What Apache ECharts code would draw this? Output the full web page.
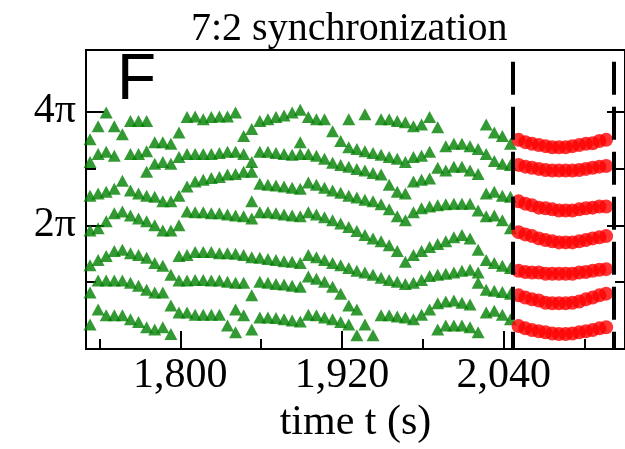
<!DOCTYPE html>
<html><head><meta charset="utf-8">
<script src="https://cdn.jsdelivr.net/npm/echarts@6/dist/echarts.min.js"></script>
<style>html,body{margin:0;padding:0;background:#fff}#c{width:625px;height:449px}</style>
</head><body><div id="c"></div>
<script>
// beat windows (time, s)
const beatTimes = [1733,1739,1745,1751,1757,1763,1769,1775,1781,1787,1793,1799,1805,1811,1817,1823,1829,1835,1841,1847,1853,1859,1865,1871,1877,1883,1889,1895,1901,1907,1913,1919,1925,1931,1937,1943,1949,1955,1961,1967,1973,1979,1985,1991,1997,2003,2009,2015,2021,2027,2033,2039,2045];
// green phases (units of pi), ordered lowest -> highest per beat window
const lane1 = [0.26,0.52,0.42,0.42,0.42,0.35,0.30,0.21,0.17,0.21, 0.09,0.47,0.47,0.43,0.43,0.43,0.43,0.24,0.12,0.42, 0.17,0.38,0.38,0.37,0.35,0.33,0.31,0.43,0.42,0.38, 0.35,0.30,0.26,0.07,0.26,0.07,0.42,0.42,0.40,0.38, 0.35,0.43,0.52,0.17,0.24,0.24,0.24,0.21,0.12,0.47, 0.50,0.43,0.35];
const lane2 = [0.82,1.03,1.03,1.03,1.03,0.99,0.94,0.87,0.82,0.82, 0.59,1.03,1.03,1.04,1.04,1.03,1.03,1.01,0.52,0.99, 0.77,1.01,0.99,0.97,0.96,0.94,0.92,1.10,1.06,1.01, 0.92,0.80,0.59,0.52,1.17,1.13,1.08,1.04,1.01,0.97, 0.99,1.04,1.11,0.63,0.66,0.68,0.64,0.61,0.99,0.87, 0.85,0.83,0.80];
const lane3 = [1.30,1.39,1.46,1.55,1.57,1.51,1.48,1.43,1.34,1.29, 1.13,1.46,1.48,1.53,1.53,1.53,1.51,1.51,0.99,1.48, 1.44,1.43,1.41,1.39,1.37,1.36,1.34,1.48,1.44,1.39, 1.34,1.30,1.25,1.20,1.83,1.77,1.72,1.65,1.55,1.36, 1.48,1.55,1.62,1.13,1.15,1.17,1.20,1.22,1.17,1.39, 1.34,1.29,1.25];
const lane4 = [1.91,1.95,2.07,2.21,2.24,2.17,2.12,2.07,2.00,1.91, 1.91,2.00,2.24,2.23,2.23,2.21,2.21,2.19,1.50,2.16, 2.12,2.23,2.23,2.21,2.19,2.17,2.16,2.23,2.19,2.14, 2.09,2.03,1.97,1.90,2.45,2.42,2.37,2.28,2.16,2.09, 2.23,2.30,2.33,1.67,1.72,1.79,1.83,1.77,1.57,2.16, 2.17,2.09,1.95];
const lane5 = [2.52,2.56,2.59,2.64,2.78,2.61,2.56,2.52,2.50,2.42, 2.42,2.52,2.68,2.77,2.80,2.83,2.85,2.89,2.17,2.94, 2.42,2.73,2.71,2.70,2.68,2.66,2.64,2.75,2.71,2.66, 2.61,2.57,2.52,2.49,2.96,2.92,2.89,2.71,2.59,2.56, 2.77,2.80,2.82,2.35,2.37,2.38,2.38,2.38,2.26,2.56, 2.59,2.52,2.50];
const lane6 = [3.11,3.25,3.29,3.22,3.60,3.25,3.25,2.94,3.08,3.11, 3.08,3.20,3.25,3.25,3.25,3.25,3.27,3.29,2.90,3.25, 2.94,3.29,3.29,3.27,3.25,3.24,3.25,3.25,3.22,3.17, 3.10,3.06,3.03,2.99,3.30,3.27,3.24,3.20,3.17,3.11, 3.20,3.22,3.29,3.01,2.96,3.03,3.03,2.96,2.90,3.25, 3.13,3.08,3.06];
const lane7 = [3.51,3.74,3.98,3.74,null,3.83,3.83,3.30,3.46,3.46, 3.43,3.63,3.90,3.91,3.86,3.90,3.91,3.91,3.29,3.57, 3.11,3.83,3.86,3.90,3.93,3.98,3.46,3.90,3.86,3.86, 3.65,3.48,3.37,3.34,3.95,null,3.86,3.86,3.83,3.81, 3.74,3.77,3.90,3.72,3.39,3.43,3.43,3.39,3.34,3.77, 3.63,3.57,3.43];
const lane8 = [null,null,null,null,null,null,null,3.83,null,null, null,null,null,null,null,null,null,null,3.98,null, 3.69,null,null,null,null,null,4.03,null,null,null, null,null,3.86,null,null,null,null,null,null,null, null,null,null,null,null,null,null,null,null,null, null,null,null];
// synchronized epoch (red)
const redTimes = [2051,2056,2061,2066,2071,2076,2081,2086,2091,2096,2101,2106,2111,2116];
const red1 = [3.50,3.46,3.43,3.41,3.39,3.37,3.37,3.37,3.39,3.41,3.43,3.44,3.48,3.50];
const red2 = [3.06,3.03,3.01,2.99,2.97,2.96,2.96,2.96,2.96,2.97,2.99,3.01,3.03,3.04];
const red3 = [2.42,2.38,2.35,2.31,2.30,2.28,2.26,2.26,2.26,2.28,2.30,2.31,2.33,2.33];
const red4 = [1.88,1.84,1.81,1.77,1.74,1.72,1.70,1.70,1.70,1.72,1.74,1.77,1.79,1.81];
const red5 = [1.20,1.18,1.17,1.17,1.15,1.15,1.15,1.15,1.15,1.17,1.18,1.20,1.22,1.23];
const red6 = [0.77,0.73,0.70,0.68,0.64,0.63,0.63,0.63,0.64,0.66,0.70,0.73,0.77,0.80];
const red7 = [0.23,0.19,0.16,0.14,0.12,0.10,0.09,0.09,0.10,0.12,0.14,0.16,0.19,0.21];
const syncWindow = [2046.5, 2121.5];
// axes
const xRange = [1730, 2130];
const xMajorTicks = [1800, 1920, 2040];
const xMinorTicks = [1740, 1860, 1980, 2100];
const yRange = [-0.174, 5.078];
const yMajorTicks = [2, 4];
const yMinorTicks = [1, 3];
const yTickText = {2: '2π', 4: '4π'};
const dashTop = 4.87;

const serif = 'Liberation Serif';
const chart = echarts.init(document.getElementById('c'));
const pairs = (ts, vs) => ts.map((t, i) => vs[i] == null ? null : [t, vs[i]]).filter(p => p);
const greens = [lane1, lane2, lane3, lane4, lane5, lane6, lane7, lane8];
const reds = [red1, red2, red3, red4, red5, red6, red7];
const tickStyle = {color: '#000', width: 2};
const fmtThousands = v => String(v).replace(/\B(?=(\d{3})+(?!\d))/g, ',');

function yAx(pos, ticks, len, labels) {
  return {
    type: 'value', min: yRange[0], max: yRange[1], position: pos,
    axisLine: {show: labels, onZero: false, lineStyle: tickStyle},
    axisTick: {show: true, inside: true, length: len, customValues: ticks, lineStyle: tickStyle},
    axisLabel: labels ? {show: true, customValues: yMajorTicks, formatter: v => yTickText[Math.round(v)] || '',
      fontFamily: serif, fontSize: 42, color: '#000', margin: 10} : {show: false},
    splitLine: {show: false}
  };
}

const series = [];
greens.forEach(l => series.push({
  type: 'scatter', xAxisIndex: 0, yAxisIndex: 0, data: pairs(beatTimes, l),
  symbol: 'triangle', symbolSize: [13, 12], itemStyle: {color: '#008000'}, silent: true, z: 2
}));
reds.forEach(l => series.push({
  type: 'scatter', xAxisIndex: 0, yAxisIndex: 0, data: pairs(redTimes, l),
  symbol: 'circle', symbolSize: 14, itemStyle: {color: '#ff0000'}, silent: true, z: 3
}));
series.push({
  type: 'scatter', xAxisIndex: 0, yAxisIndex: 0, data: [], z: 5, silent: true,
  markLine: {
    silent: true, symbol: ['none', 'none'], label: {show: false}, animation: false,
    lineStyle: {color: '#000', width: 4, type: [33, 12], opacity: 1},
    data: syncWindow.map(t => [{coord: [t, dashTop]}, {coord: [t, yRange[0]]}])
  }
});

chart.setOption({
  animation: false,
  backgroundColor: '#fff',
  title: {text: '7:2 synchronization', left: 186, top: 4,
    textStyle: {fontFamily: serif, fontSize: 40, fontWeight: 'normal', color: '#000'}},
  grid: {left: 86, right: -3, top: 50, bottom: 97, show: true, borderColor: '#000', borderWidth: 2},
  xAxis: [
    {type: 'value', min: xRange[0], max: xRange[1], position: 'bottom',
      axisLine: {show: true, onZero: false, lineStyle: tickStyle},
      axisTick: {show: true, inside: true, length: 18, customValues: xMajorTicks, lineStyle: tickStyle},
      axisLabel: {customValues: xMajorTicks, formatter: fmtThousands, fontFamily: serif, fontSize: 42, color: '#000', margin: 6},
      splitLine: {show: false},
      name: 'time t (s)', nameLocation: 'middle', nameGap: 48,
      nameTextStyle: {fontFamily: serif, fontSize: 42, color: '#000'}},
    {type: 'value', min: xRange[0], max: xRange[1], position: 'bottom',
      axisLine: {show: false, onZero: false},
      axisTick: {show: true, inside: true, length: 10, customValues: xMinorTicks, lineStyle: tickStyle},
      axisLabel: {show: false}, splitLine: {show: false}}
  ],
  yAxis: [
    yAx('left', yMajorTicks, 18, true),
    yAx('left', yMinorTicks, 10, false),
    yAx('right', yMajorTicks, 18, false),
    yAx('right', yMinorTicks, 10, false)
  ],
  graphic: [{type: 'text', x: 117, y: 81, z: 100,
    style: {text: 'F', fontSize: 64, fontFamily: 'Liberation Sans', fill: '#000', verticalAlign: 'middle', align: 'left'}}],
  series: series
});
</script></body></html>
